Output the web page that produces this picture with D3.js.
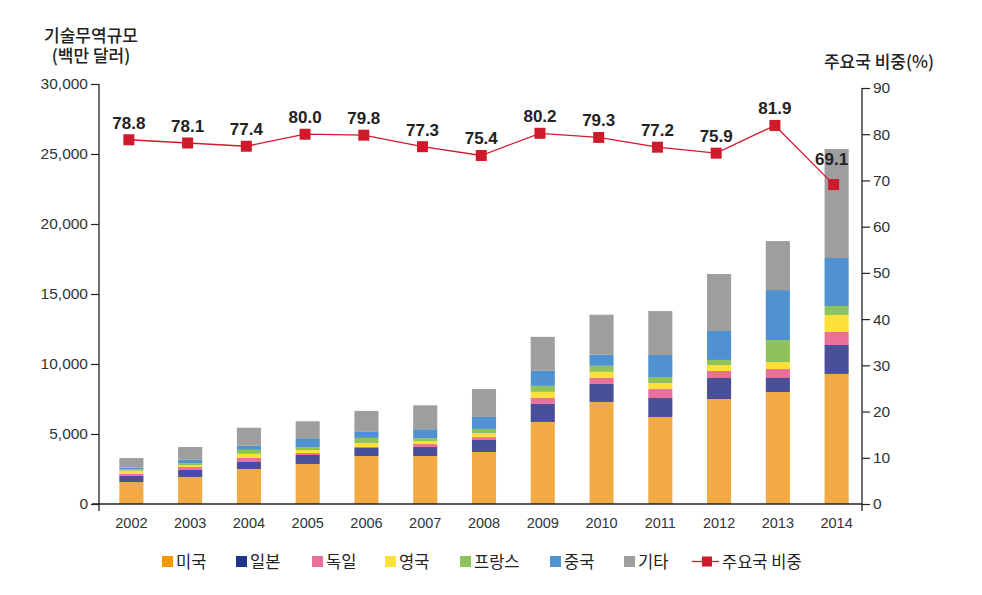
<!DOCTYPE html>
<html><head><meta charset="utf-8">
<script src="https://cdnjs.cloudflare.com/ajax/libs/d3/7.8.5/d3.min.js"></script>
<style>
html,body{margin:0;padding:0;background:#fff;}
svg{display:block;font-family:"Liberation Sans",Arial,sans-serif;}
.kr{font-family:"Noto Sans CJK KR","Noto Sans",sans-serif;}
</style></head>
<body><svg id="chart" width="982" height="595"></svg>
<script>
const years = ["2002","2003","2004","2005","2006","2007","2008","2009","2010","2011","2012","2013","2014"];
const seriesNames = ["미국","일본","독일","영국","프랑스","중국","기타"];
const usa     = [1570,1930,2500,2860,3430,3430,3710,5860,7290,6210,7500,8000,9290];
const japan   = [430,500,500,640,570,640,860,1290,1290,1360,1500,1000,2070];
const germany = [140,210,290,140,70,210,210,430,430,640,500,640,930];
const uk      = [240,140,290,210,290,210,290,430,430,430,430,500,1210];
const france  = [100,140,290,210,360,210,290,430,430,430,360,1570,640];
const china   = [110,240,290,640,430,640,860,1070,790,1570,2070,3570,3430];
const others  = [690,910,1290,1210,1500,1710,2000,2430,2860,3140,4070,3500,7790];
const share   = [78.8,78.1,77.4,80.0,79.8,77.3,75.4,80.2,79.3,77.2,75.9,81.9,69.1];
const leftTicks = [0,5000,10000,15000,20000,25000,30000];
const rightTicks = [0,10,20,30,40,50,60,70,80,90];
const lineName = "주요국 비중";
const leftTitle = ["기술무역규모","(백만 달러)"];
const rightTitle = "주요국 비중(%)";

const barColors = ["#F2AB44","#4A5097","#E8709A","#FDE03A","#8DC35A","#4F92CF","#9E9E9E"];
const legendColors = ["#F39800","#1E3484","#E8709A","#FFE33C","#8DC35A","#4F92CF","#9E9E9E"];
const lineColor = "#CE1A2B";

const svg = d3.select("#chart");
const table = years.map((y,i)=>({year:y, "미국":usa[i],"일본":japan[i],"독일":germany[i],"영국":uk[i],"프랑스":france[i],"중국":china[i],"기타":others[i]}));
const stacked = d3.stack().keys(seriesNames)(table);

const xBar = d3.scaleBand().domain(years).range([102,866]).paddingInner(0.59).paddingOuter(0.295);
const xLine = d3.scaleBand().domain(years).range([99.5,863]);
const yL = d3.scaleLinear().domain([0,30000]).range([504,84]);
const yR = d3.scaleLinear().domain([0,90]).range([504,88]);

// bars
svg.append("g").selectAll("g").data(stacked).join("g")
  .attr("fill",(d,i)=>barColors[i])
  .selectAll("rect").data(d=>d).join("rect")
  .attr("x",d=>xBar(d.data.year))
  .attr("width",xBar.bandwidth())
  .attr("y",d=>yL(d[1]))
  .attr("height",d=>yL(d[0])-yL(d[1]));

// axes
const axisColor="#222";
const gl = svg.append("g").attr("transform","translate(99,0)")
  .call(d3.axisLeft(yL).tickValues(leftTicks).tickFormat(d3.format(",")).tickSize(8).tickSizeOuter(0));
gl.select(".domain").remove();
gl.append("line").attr("x1",0).attr("x2",0).attr("y1",84).attr("y2",511).attr("stroke",axisColor).attr("stroke-width",1.3);
gl.selectAll(".tick line").attr("stroke",axisColor).attr("stroke-width",1.2);
gl.selectAll(".tick text").attr("fill","#333").attr("font-size",15.5).attr("x",-11).attr("font-family","Liberation Sans, Arial, sans-serif");

const gr = svg.append("g").attr("transform","translate(862,0)")
  .call(d3.axisRight(yR).tickValues(rightTicks).tickSize(8).tickSizeOuter(0));
gr.select(".domain").remove();
gr.append("line").attr("x1",0).attr("x2",0).attr("y1",88).attr("y2",511).attr("stroke",axisColor).attr("stroke-width",1.3);
gr.selectAll(".tick line").attr("stroke",axisColor).attr("stroke-width",1.2);
gr.selectAll(".tick text").attr("fill","#333").attr("font-size",15.5).attr("x",11).attr("font-family","Liberation Sans, Arial, sans-serif");

const gx = svg.append("g").attr("transform","translate(0,504)")
  .call(d3.axisBottom(xBar).tickSize(0));
gx.select(".domain").remove();
gx.append("line").attr("x1",92).attr("x2",862).attr("y1",0).attr("y2",0).attr("stroke",axisColor).attr("stroke-width",1.3);
gx.selectAll(".tick text").attr("fill","#333").attr("font-size",14.5).attr("dy","1.45em").attr("font-family","Liberation Sans, Arial, sans-serif");

// line
const lx = (d,i)=>xLine(years[i])+xLine.bandwidth()/2;
svg.append("path").datum(share)
  .attr("fill","none").attr("stroke",lineColor).attr("stroke-width",1.3)
  .attr("d",d3.line().x(lx).y(d=>yR(d)));
svg.append("g").selectAll("rect").data(share).join("rect")
  .attr("x",(d,i)=>lx(d,i)-5.5).attr("y",d=>yR(d)-5.5)
  .attr("width",11).attr("height",11).attr("fill",lineColor);
svg.append("g").selectAll("text").data(share).join("text")
  .attr("x",(d,i)=>lx(d,i)-(i===share.length-1?2:0))
  .attr("y",(d,i)=>yR(d)-(i===share.length-1?20:11))
  .attr("text-anchor","middle").attr("font-size",17).attr("font-weight","bold").attr("fill","#222")
  .text(d=>d.toFixed(1));

// titles
const lt = svg.append("text").attr("class","kr").attr("x",91).attr("y",42).attr("text-anchor","middle")
  .attr("font-size",17).attr("font-weight",500).attr("fill","#222");
lt.selectAll("tspan").data(leftTitle).join("tspan")
  .attr("x",91).attr("dy",(d,i)=>i===0?0:20).text(d=>d);
svg.append("text").attr("class","kr").attr("x",879).attr("y",68).attr("text-anchor","middle")
  .attr("font-size",17).attr("font-weight",500).attr("fill","#222").text(rightTitle);

// legend
const legX = [162,236,312,385,460,550,624];
const lg = svg.append("g");
seriesNames.forEach((n,i)=>{
  lg.append("rect").attr("x",legX[i]).attr("y",556).attr("width",11).attr("height",11).attr("fill",legendColors[i]);
  lg.append("text").attr("class","kr").attr("x",legX[i]+14).attr("y",567.5).attr("font-size",16.5).attr("fill","#222").text(n);
});
lg.append("line").attr("x1",692).attr("x2",719).attr("y1",561.5).attr("y2",561.5).attr("stroke",lineColor).attr("stroke-width",1.3);
lg.append("rect").attr("x",702).attr("y",556.5).attr("width",10).attr("height",10).attr("fill",lineColor);
lg.append("text").attr("class","kr").attr("x",722).attr("y",567.5).attr("font-size",16.5).attr("fill","#222").text(lineName);
</script></body></html>
